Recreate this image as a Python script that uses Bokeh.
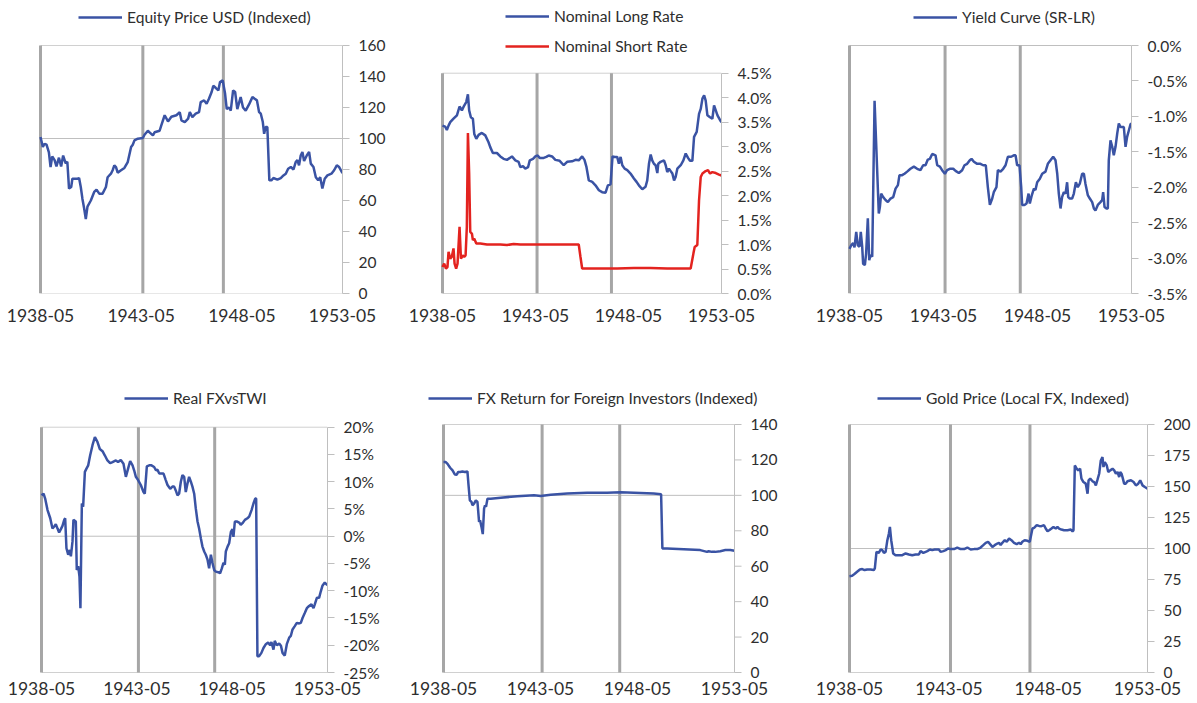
from bokeh.plotting import figure
from bokeh.layouts import column, row
from bokeh.models import Range1d, FixedTicker, Legend, LegendItem, PrintfTickFormatter
from bokeh.core.properties import value
from bokeh.embed import file_html
from bokeh.resources import INLINE

# ---------------- data (x = months since 1938-05) ----------------
x_tick_months = [0, 60, 120, 180]
x_tick_labels = ["1938-05", "1943-05", "1948-05", "1953-05"]
event_months = [0, 61, 109]

eq_m = [0,1.4,2.4,3.6,5,6,7,8.4,9.5,11,12.3,13.5,15,16,17,18.3,19,22,23,24,25,26,27,28,30,32,33.4,35,37,39,40,42,43,44,45,46,48,50,52,54,55,56,58,61,62,64,65,67,68,71,72,74,76,78,81,83,84,86,88,89,90.5,92.5,94.5,95.5,97.5,99,100.4,102,103,104.4,106,107,108.6,110,111,112.4,113.4,114.8,116,117.3,119.3,120.7,122.3,124.3,126.3,127.7,129,130.3,131.3,132.5,133.3,134.2,135.2,136.4,137.6,138.8,141.2,143.2,144.8,146.2,147.6,149.2,150.8,152.1,153.1,154.1,155.1,156.1,157.1,158.7,160.1,161.1,162.7,164.1,165.5,166.7,168,169.4,171,173.4,175,176.6,178,180]
eq_v = [101,94.5,96.6,96,91,81.6,88.5,86,82,87.6,82,89,84,85,67.7,68.7,74,74,74.5,68.7,61,55,48,56,60,65.5,67,64.4,64.4,68.7,75,77.3,79.5,82.7,81.6,78,79.5,81,84.8,94.5,96,98.8,99.9,100.3,102.4,105,104,102,104,105,108.5,115,111,114,115,117,111.7,110.6,112.8,117,113.8,116,117,123.5,124.6,122.4,125.6,130,134,132.7,131,136.4,137.5,129,119,120,118,131,130,119,126.7,120,118,122,126.7,125.6,124.6,117,116,110.6,103,107.4,107.4,73,73,74.5,73.5,74.5,76.2,77.3,80.5,81.6,80,84.8,86,82.7,89,91.3,85.5,89,91.3,83.8,81.6,75,73,75,67.7,74,76.2,77.3,79.5,82.7,81.6,77.7]

lr_m = [0,1.7,2.8,3.9,5,7.1,9.3,11,12.5,14,15.3,16.4,17.2,18.3,19.6,20.5,21.8,23.3,25.4,27.6,29.7,30.8,32.5,35.1,37.3,39.4,41.6,44.8,47,49.1,50.2,51.9,53.4,55.2,56.3,58.4,59.9,61.4,62.7,65.3,67,68.5,70.7,72.8,75.6,78.2,80.4,83.6,85.8,87.9,90.1,91.6,92.9,94.4,96.6,98.7,100.9,103,105.2,106.7,108.4,109.7,111.2,112.7,113.8,114.9,116,117.5,119.2,121.3,123.5,125.2,126.7,128.9,131,132.1,133.2,134.3,135.3,136.4,137.5,138.6,139.2,140.7,142.9,144,145,146.1,147.2,148.3,149.4,150.4,151.5,153.7,155.4,156.9,158.4,159.7,161.2,162.3,164,165.5,166.6,167.7,168.8,169.8,170.9,172.6,174.1,175.2,176.3,177.4,179.1,180]
lr_v = [3.43,3.41,3.34,3.43,3.5,3.57,3.64,3.82,3.74,3.84,3.91,4.07,3.74,3.6,3.57,3.26,3.16,3.24,3.28,3.23,3.09,2.99,2.87,2.87,2.8,2.75,2.73,2.8,2.72,2.69,2.58,2.6,2.55,2.58,2.72,2.75,2.8,2.82,2.77,2.77,2.79,2.82,2.8,2.73,2.71,2.62,2.69,2.7,2.73,2.72,2.8,2.73,2.58,2.31,2.28,2.21,2.11,2.07,2.06,2.21,2.23,2.8,2.79,2.79,2.65,2.79,2.62,2.55,2.52,2.45,2.35,2.28,2.21,2.13,2.18,2.31,2.65,2.84,2.72,2.65,2.62,2.46,2.65,2.69,2.72,2.62,2.48,2.55,2.5,2.45,2.31,2.38,2.55,2.62,2.72,2.86,2.77,2.71,2.71,3.2,3.3,3.67,3.77,3.98,4.05,3.94,3.64,3.6,3.57,3.84,3.74,3.64,3.54,3.5]

sr_m = [0,1.1,2.2,3.2,3.9,5,6,7.1,7.8,8.8,9.7,11,11.9,13.1,14,14.9,15.7,16.4,17.2,17.9,19,19.6,20.5,21.8,24.4,28.7,33,37.3,41.6,45.9,50.2,58.8,69.6,80.4,87.9,89,90.1,93.3,101.9,112.7,123.5,134.3,145,160.1,161.9,162.7,164.4,165.5,166.6,167.7,169.8,171.3,172.6,174.1,176.3,178.4,180]
sr_v = [0.54,0.61,0.51,0.54,0.85,0.71,0.75,0.92,0.61,0.51,0.61,1.36,0.71,0.78,0.75,0.78,1.36,3.28,2.45,1.26,1.22,1.09,1.12,1.02,1.02,1.0,1.0,1.0,0.99,1.01,1.0,1.0,1.0,1.0,1.0,0.75,0.51,0.51,0.51,0.51,0.52,0.52,0.51,0.51,0.82,0.95,0.99,1.9,2.38,2.45,2.5,2.52,2.45,2.48,2.46,2.43,2.41]

yc_m = [0,1.1,2.3,3.2,4.3,5.3,6.4,7.2,8.1,8.7,9.8,10.6,11.7,12.6,13.4,14.5,16,18.7,19.4,20.2,21.5,23,24.5,26.2,27.9,29.4,30.9,31.9,33.6,35.1,36.8,38.9,41.1,43.2,45.3,47,48.5,50,51.3,52.8,54.9,56,57.7,59.1,60.9,62.3,64,66.2,67.7,69.8,71.9,73.4,75.1,76.8,77.9,79.4,81.5,83.6,85.3,87,88.3,89.6,91.1,92.1,93.8,94.7,96.4,98.1,99.6,101.1,103.2,104.9,106,107,108.5,109.6,110.2,111.7,113,114.3,115.1,116.4,117.7,118.7,119.8,121.5,123,125.1,126.6,128.3,130,131.5,132.6,133.6,134.7,135.7,136.8,137.9,138.9,139.6,140.6,142.1,143.2,144.5,145.7,147,148.5,149.6,150.6,152.1,153.4,154.9,156,157,158.5,160.2,161.3,161.9,162.8,164,164.9,165.5,166.6,167.7,168.7,169.8,170.9,171.9,173,174,175.1,176.2,177.2,178.3,179.4,180]
yc_v = [-2.87,-2.82,-2.79,-2.85,-2.63,-2.82,-2.84,-2.63,-2.84,-3.08,-3.1,-2.94,-2.44,-3.03,-2.96,-2.98,-0.78,-2.37,-2.28,-2.09,-2.14,-2.18,-2.21,-2.16,-2.14,-2.02,-1.97,-1.83,-1.83,-1.81,-1.78,-1.74,-1.71,-1.74,-1.76,-1.69,-1.69,-1.61,-1.6,-1.53,-1.55,-1.69,-1.71,-1.76,-1.81,-1.76,-1.74,-1.74,-1.77,-1.8,-1.76,-1.69,-1.67,-1.62,-1.6,-1.64,-1.67,-1.67,-1.69,-1.69,-2.0,-2.25,-2.16,-2.07,-2.0,-1.76,-1.78,-1.74,-1.69,-1.57,-1.57,-1.55,-1.55,-1.69,-1.69,-2.0,-2.25,-2.25,-2.23,-2.09,-2.23,-2.11,-2.02,-2.04,-1.93,-1.88,-1.81,-1.78,-1.67,-1.62,-1.57,-1.62,-1.81,-2.09,-2.3,-2.14,-2.07,-2.09,-1.93,-2.14,-2.16,-2.16,-2.09,-1.93,-2.0,-1.95,-1.81,-1.81,-1.95,-2.11,-2.16,-2.21,-2.3,-2.33,-2.25,-2.21,-2.18,-2.07,-2.28,-2.3,-2.3,-1.62,-1.34,-1.43,-1.55,-1.43,-1.24,-1.1,-1.15,-1.15,-1.15,-1.43,-1.29,-1.2,-1.11,-1.1]

fx_m = [0,1.3,2.3,3.8,5.5,6.9,8,9,10.1,11.1,12.2,13.2,14.3,14.9,15.7,16.8,17.8,18.5,19.5,20.1,21.6,22.2,23.1,23.9,24.5,25.4,26.2,27.3,28.3,29.4,30.6,32.1,33.6,35.2,36.7,38.4,39.9,41.5,43.2,44.7,46.8,48.2,49.9,51.6,53.1,54.5,55.8,57.3,58.3,59.4,60.8,62.5,64.2,65,66.3,67.8,69.2,70.9,72,73,74.1,75.5,76.8,78.2,79.3,81,82.4,83.5,84.5,85.6,86.6,87.7,88.7,89.8,90.8,91.9,92.9,94,95,96.1,97.1,98.2,99.2,100.3,101.3,102.4,103.4,104.5,105.5,106.6,107.6,108.7,109.7,111.2,112.4,113.5,114.5,115.4,116,117.1,118.1,119.2,120.2,120.8,121.7,122.9,124.4,125.4,126.5,128,129.6,130.7,132.2,133.4,134.5,135.1,135.9,137,138.4,139.7,141.2,142.6,143.9,144.7,146,146.8,148.1,149.6,150.7,151.7,153.1,154.4,155.9,156.9,158,159.4,160.7,162.2,163.2,164.3,165.7,167,168.4,169.9,171.2,172,173.3,174.7,175.8,176.8,178.3,179.6,180]
fx_v = [7.5,7.8,6.9,4.8,3.3,1.4,1.8,2.2,1.4,0.7,1.3,1.9,3,3.3,-2.2,-3.4,-2.5,-3.7,-1,3,2.7,-6.2,-5.5,-7.4,-13.2,6,5.4,11.8,12.4,13,14.8,16.7,18.2,17.3,16,15.6,14.8,13.9,13.4,13.6,13.9,13.6,14,13.3,10.9,12.4,13.8,13,12.1,10.9,10.3,9.4,8.1,7.8,12.8,13,13,12.7,12.1,12.2,11.5,11.5,11.5,10.3,9.4,8.7,9.1,9.1,8.4,7.5,7.8,10,11.2,10.9,8.1,9.7,10.9,10,9.1,7.8,5.1,2.7,1.4,-0.4,-1.9,-2.8,-3.4,-4.3,-5.9,-3.4,-4.9,-6.2,-6.5,-6.6,-6.8,-5.9,-4.9,-5.2,-2.8,-1.9,-1.3,0.8,1.3,-0.1,2.7,2.7,2.5,2.1,2.4,3,3.3,3.6,4.8,6,6.9,6.9,-22,-22,-21.4,-20.5,-19.8,-19.5,-20,-19.4,-20.8,-19.2,-20,-19.7,-20.1,-21.4,-21.9,-19.8,-18.6,-18.3,-17.1,-16.5,-15.9,-16,-15.9,-15,-14.1,-13.2,-12.8,-12.5,-13.2,-12.5,-11.3,-11.3,-10.1,-9.1,-8.5,-8.9,-8.9]

fr_m = [0,1.4,2.5,4.1,5.6,7,8.2,9.1,10.3,11.7,13.2,14.8,15.4,16.3,17.3,17.9,18.9,20,21,22,22.6,23.5,24.3,25.1,25.7,26.3,27.2,29.2,35.4,45.7,56,60.1,66.3,76.5,88.9,101.2,109.5,117.7,130,134.6,135.4,138.3,148.6,158.8,163,164,166,168.1,171.2,174.3,177.4,180]
fr_v = [118.8,118.8,117.8,115.6,114.1,111.8,111.7,113.2,113.2,113.5,113.2,113.5,106.6,97.2,96.3,94.4,95.3,97.2,96.3,85,85.9,82.2,78.1,92.5,94.4,93.5,98.1,98.1,98.7,99.5,100,99.6,100.4,101,101.5,101.5,101.7,101.5,101,100.6,70,70,69.6,69.1,68.1,68.5,68.1,68.1,68.5,69.1,69.1,68.7]

gd_m = [0,1.6,3,4.6,6.3,7.7,9.1,10.7,12.7,14.7,15.3,16.3,17.7,18.8,19.8,20.8,21.8,22.8,23.8,24.4,25.2,26.4,27.8,29.8,31.9,33.9,35.9,37.9,39.9,41.9,42.9,44.6,46,47,48.6,50,51.4,53,54,55,56.7,58.1,59.5,61.1,63.1,65.1,67.1,69.2,71.2,73.2,75.2,77.2,79.2,80.8,82.3,83.7,84.9,86.3,87.7,89.3,90.3,91.3,92.3,93.8,95,96.4,97.8,99.4,101,102.4,103.4,104.4,105.8,107.5,108.9,109.5,110.5,111.5,113.1,114.5,115.9,117.5,118.5,119.6,120.6,122,123.2,124.6,125.6,126.6,128,129.6,131.7,133.7,134.7,135.3,136.1,137.3,138.1,139.3,140.1,141.3,142.7,143.8,144.4,145.4,146.8,147.8,148.8,149.8,150.8,151.8,152.8,153.4,154.2,155.4,156.3,157.5,158.9,159.9,160.9,161.9,162.9,163.5,164.3,164.9,165.9,166.9,167.9,170,171.6,173,174.4,175.6,177,178.4,180]
gd_v = [77.7,78,79.4,81.2,83.1,83.4,82.6,83.1,83.1,82.6,83.9,97.3,96.5,99.2,98.7,96.5,97.3,106.2,112.1,117.4,106.7,96,94.6,94.6,94.6,96,95.2,94.6,95.2,95.2,97.9,96.5,97.3,97.9,99.2,98.7,99.2,99.2,99.2,97.3,97.9,98.7,100,99.5,99.5,100.8,99.5,99.5,100.8,99.2,99.5,99.5,100.8,102.7,104.6,105.4,103.5,101.3,102.7,104,104.6,102.7,104.6,106.7,105.4,108,106.7,104.6,103.5,104.6,103.5,105.4,106.7,106.2,105.4,109.4,116.1,116.6,118.8,118.2,118,118.8,116.1,113.9,114.7,116.1,117.4,116.1,117.4,116.1,115.3,114.7,114.7,115.3,113.9,114.7,167,164.3,163,164.3,156.3,153.6,152.3,144.2,155,156.3,154.2,153.6,150.9,155.5,160.3,171,173.7,165.7,169.7,167,161.7,163,164.3,163,160.3,161.7,157.6,161.7,160.3,157.6,152.3,152.3,154.2,155,153.6,150.9,152.3,155,150.9,149.6,148.3]

yt_eq = [0, 20, 40, 60, 80, 100, 120, 140, 160]
yt_rates = [0, 0.5, 1.0, 1.5, 2.0, 2.5, 3.0, 3.5, 4.0, 4.5]
yt_yc = [-3.5, -3.0, -2.5, -2.0, -1.5, -1.0, -0.5, 0.0]
yt_fx = [-25, -20, -15, -10, -5, 0, 5, 10, 15, 20]
yt_fr = [0, 20, 40, 60, 80, 100, 120, 140]
yt_gd = [0, 25, 50, 75, 100, 125, 150, 175, 200]

# ---------------- style ----------------
FONT = "Lato"
TEXT = "#2E2E2E"
BLUE = "#3A53A4"
RED = "#E3231F"
EVENT = "#A6A6A6"
FRAME = "#D0D0D0"
AXIS = "#BFBFBF"
TICK_OUT = 7
LABEL_GAP = 16


def panel(W, H, left, fw, bottom, pad_top, yticks, fmt, cross, series,
          leg_x, leg_y, xstand, pad_left=2, pad_right=0, pad_bottom=0):
    """left/fw: pixel position of the time span; pad_top/pad_bottom: pixels between the
    plot-area edges and the value-axis ends.  pad_right > 0: the plot area continues past
    the value axis (room for a wide legend); the value axis is then drawn at the last date."""
    manual_axis = pad_right > 0
    right = W - left - fw - pad_right
    fh = H - bottom
    ymin, ymax = yticks[0], yticks[-1]
    y_per_px = (ymax - ymin) / (fh - pad_top - pad_bottom)
    y_lo = ymin - y_per_px * pad_bottom
    y_hi = ymax + y_per_px * pad_top
    x_lo, x_hi = x_tick_months[0], x_tick_months[-1]
    per_px = (x_hi - x_lo) / fw
    x_start = x_lo - per_px * pad_left
    x_end = x_hi + per_px * pad_right
    p = figure(width=W, height=H, x_range=Range1d(x_start, x_end), y_range=Range1d(y_lo, y_hi),
               output_backend="svg", toolbar_location=None,
               y_axis_location=None if manual_axis else "right",
               min_border_left=left - pad_left, min_border_right=right,
               min_border_top=0, min_border_bottom=bottom)
    p.xgrid.visible = False
    p.ygrid.visible = False
    p.outline_line_color = None
    p.background_fill_color = "white"
    p.border_fill_color = "white"

    # plot-area edges, axis crossing line, event markers
    p.segment(x0=[x_lo] * 2, x1=[x_hi] * 2, y0=[ymin, ymax], y1=[ymin, ymax],
              line_color=FRAME, line_width=1)
    p.segment(x0=[x_lo], x1=[x_hi], y0=[cross], y1=[cross], line_color=AXIS, line_width=1)
    p.segment(x0=event_months, x1=event_months, y0=[ymin] * len(event_months),
              y1=[ymax] * len(event_months), line_color=EVENT, line_width=3)

    items = []
    for name, xs, ys, col in series:
        r = p.line(xs, ys, line_color=col, line_width=2.5)
        items.append(LegendItem(label=name, renderers=[r]))

    n = len(items)
    box_top = fh - leg_y + 9
    box_h = n * 18 + (n - 1) * 12
    leg = Legend(items=items, location=(leg_x + pad_left, box_top - box_h),
                 orientation="vertical", padding=0, margin=0, spacing=12,
                 glyph_width=44, glyph_height=18, label_height=18, label_standoff=5,
                 border_line_color=None, background_fill_alpha=0,
                 label_text_font=FONT, label_text_font_size="15.6px",
                 label_text_color=TEXT)
    p.add_layout(leg)

    if manual_axis:
        labels = [(fmt % t) if fmt else ("%g" % t) for t in yticks]
        p.segment(x0=[x_hi], x1=[x_hi], y0=[ymin], y1=[ymax], line_color=AXIS, line_width=1)
        p.segment(x0=[x_hi] * len(yticks), x1=[x_hi + per_px * TICK_OUT] * len(yticks),
                  y0=yticks, y1=yticks, line_color=AXIS, line_width=1)
        p.text(x=[x_hi] * len(yticks), y=yticks, text=labels, x_offset=LABEL_GAP,
               text_font=value(FONT), text_font_size="15.5px", text_color=TEXT,
               text_align="left", text_baseline="middle")
    else:
        ya = p.yaxis[0]
        ya.ticker = FixedTicker(ticks=yticks, minor_ticks=[])
        ya.bounds = (ymin, ymax)
        if fmt:
            ya.formatter = PrintfTickFormatter(format=fmt)
        ya.axis_line_color = AXIS
        ya.major_tick_line_color = AXIS
        ya.major_tick_out = TICK_OUT
        ya.major_tick_in = 0
        ya.minor_tick_line_color = None
        ya.major_label_standoff = LABEL_GAP - TICK_OUT
        ya.major_label_text_font = FONT
        ya.major_label_text_font_size = "15.5px"
        ya.major_label_text_color = TEXT

    xa = p.xaxis[0]
    xa.ticker = FixedTicker(ticks=x_tick_months, minor_ticks=[])
    xa.major_label_overrides = dict(zip(x_tick_months, x_tick_labels))
    xa.axis_line_color = None
    xa.major_tick_line_color = None
    xa.minor_tick_line_color = None
    xa.major_tick_out = 0
    xa.major_tick_in = 0
    xa.major_label_standoff = xstand
    xa.major_label_text_font = FONT
    xa.major_label_text_font_size = "17.5px"
    xa.major_label_text_color = TEXT
    return p


H1, H2 = 365, 338
p1 = panel(400, H1, 40, 302, 72, 45, yt_eq, None, 100,
           [("Equity Price USD (Indexed)", eq_m, eq_v, BLUE)], 38, 16.7, 15)
p2 = panel(400, H1, 42, 279, 72, 72.7, yt_rates, "%.1f%%", 0,
           [("Nominal Long Rate", lr_m, lr_v, BLUE),
            ("Nominal Short Rate", sr_m, sr_v, RED)], 63, 15.7, 15)
p3 = panel(396, H1, 49, 282, 72, 45, yt_yc, "%.1f%%", 0,
           [("Yield Curve (SR-LR)", yc_m, yc_v, BLUE)], 64, 16.7, 15)
p4 = panel(400, H2, 41, 286, 23, 61.7, yt_fx, "%d%%", 0,
           [("Real FXvsTWI", fx_m, fx_v, BLUE)], 83, 33.3, 1, pad_bottom=8)
p5 = panel(400, H2, 43, 291, 23, 59, yt_fr, None, 100,
           [("FX Return for Foreign Investors (Indexed)", fr_m, fr_v, BLUE)], -15, 33, 1,
           pad_left=16, pad_right=62, pad_bottom=8)
p6 = panel(396, H2, 49, 298, 23, 59, yt_gd, None, 100,
           [("Gold Price (Local FX, Indexed)", gd_m, gd_v, BLUE)], 28, 33.3, 1, pad_bottom=8)

layout = column(row(p1, p2, p3, spacing=0), row(p4, p5, p6, spacing=0), spacing=0)

with open("out.html", "w") as f:
    f.write(file_html(layout, INLINE))
